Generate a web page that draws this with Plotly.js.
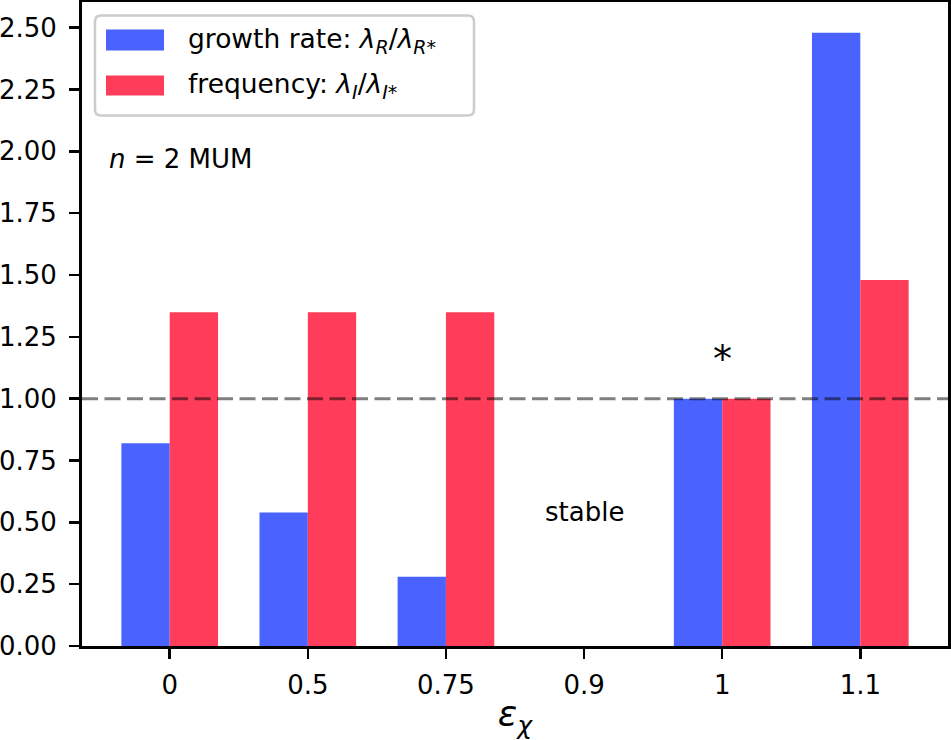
<!DOCTYPE html>
<html>
<head>
<meta charset="utf-8">
<script src="https://cdn.plot.ly/plotly-3.0.1.min.js"></script>
<style>html,body{margin:0;padding:0;background:#fff;}#chart{width:951px;height:740px;}</style>
</head>
<body>
<div id="chart"></div>
<script>
// ---- data ----
const categories = ["0", "0.5", "0.75", "0.9", "1", "1.1"];
const growthRate = [0.82, 0.54, 0.28, 0, 1.0, 2.48];
const frequency = [1.35, 1.35, 1.35, 0, 1.0, 1.48];
const seriesNames = [
  "growth rate: <i>λ<sub><span style='font-size:19px'>R</span></sub></i>/<i>λ<sub><span style='font-size:19px'>R*</span></sub></i>",
  "frequency: <i>λ<sub><span style='font-size:19px'>I</span></sub></i>/<i>λ<sub><span style='font-size:19px'>I*</span></sub></i>"
];
const yTickVals = [0, 0.25, 0.5, 0.75, 1.0, 1.25, 1.5, 1.75, 2.0, 2.25, 2.5];
const referenceLevel = 1.0;
const stableLabel = {cat: "0.9", y: 0.54, text: "stable"};
const starLabel = {cat: "1", y: 1.16, text: "*"};
const modelLabel = "<i>n</i> = 2 MUM";

const BLUE = "#4a63ff";
const RED = "#ff3d5a";
const FONT = "DejaVu Sans";

const traces = [
  {type: "bar", x: categories, y: growthRate, name: seriesNames[0],
   marker: {color: BLUE, line: {width: 0}}, hoverinfo: "x+y"},
  {type: "bar", x: categories, y: frequency, name: seriesNames[1],
   marker: {color: RED, line: {width: 0}}, hoverinfo: "x+y"}
];

function legendBox(x0, x1, ytop, ybot, r) {
  const t = -ytop, b = -ybot;
  return `M ${x0 + r} ${t} L ${x1 - r} ${t} Q ${x1} ${t} ${x1} ${t - r} ` +
         `L ${x1} ${b + r} Q ${x1} ${b} ${x1 - r} ${b} L ${x0 + r} ${b} ` +
         `Q ${x0} ${b} ${x0} ${b + r} L ${x0} ${t - r} Q ${x0} ${t} ${x0 + r} ${t} Z`;
}

const shapes = [
  {type: "line", xref: "paper", x0: 0, x1: 1, yref: "y", y0: referenceLevel, y1: referenceLevel,
   line: {color: "rgba(0,0,0,0.5)", width: 3, dash: "16px,6.5px"}, layer: "above"},
  {type: "path", xref: "paper", yref: "paper", xsizemode: "pixel", ysizemode: "pixel",
   xanchor: 0, yanchor: 1, path: legendBox(13, 392, 13.5, 113.5, 6),
   fillcolor: "rgba(255,255,255,0.8)", line: {color: "#cccccc", width: 2.5}, layer: "above"},
  {type: "rect", xref: "paper", yref: "paper", xsizemode: "pixel", ysizemode: "pixel",
   xanchor: 0, yanchor: 1, x0: 24, x1: 82, y0: -27.5, y1: -48.5,
   fillcolor: BLUE, line: {width: 0}, layer: "above"},
  {type: "rect", xref: "paper", yref: "paper", xsizemode: "pixel", ysizemode: "pixel",
   xanchor: 0, yanchor: 1, x0: 24, x1: 82, y0: -73.5, y1: -93.5,
   fillcolor: RED, line: {width: 0}, layer: "above"}
];

const plotW = 951 - 82 - 3, plotH = 740 - 1.5 - 94;
const annotations = [
  {xref: "paper", yref: "paper", x: 104 / plotW, y: 1 - 38.5 / plotH, xanchor: "left", yanchor: "middle",
   text: seriesNames[0], showarrow: false, font: {family: FONT, size: 26.5, color: "#000"}},
  {xref: "paper", yref: "paper", x: 104 / plotW, y: 1 - 84 / plotH, xanchor: "left", yanchor: "middle",
   text: seriesNames[1], showarrow: false, font: {family: FONT, size: 26.5, color: "#000"}},
  {xref: "paper", yref: "paper", x: 25 / plotW, y: 1 - 157 / plotH, xanchor: "left", yanchor: "middle",
   text: modelLabel, showarrow: false, font: {family: FONT, size: 26, color: "#000"}},
  {xref: "x", yref: "y", x: categories.indexOf(stableLabel.cat), y: stableLabel.y, xanchor: "center", yanchor: "middle",
   text: stableLabel.text, showarrow: false, font: {family: FONT, size: 26, color: "#000"}},
  {xref: "x", yref: "y", x: categories.indexOf(starLabel.cat), y: starLabel.y, xanchor: "center", yanchor: "middle",
   text: starLabel.text, showarrow: false, font: {family: FONT, size: 38, color: "#000"}}
];

const layout = {
  width: 951, height: 740,
  margin: {l: 82, r: 3, t: 1.5, b: 94, pad: 0},
  paper_bgcolor: "#fff", plot_bgcolor: "#fff",
  font: {family: FONT, size: 26, color: "#000"},
  showlegend: false,
  barmode: "group", bargap: 0.3, bargroupgap: 0,
  xaxis: {
    type: "category", range: [-0.635, 5.635],
    showgrid: false, zeroline: false,
    showline: true, linecolor: "#000", linewidth: 3, mirror: true,
    ticks: "outside", ticklen: 10, tickwidth: 2.5, tickcolor: "#000",
    tickfont: {family: FONT, size: 26, color: "#000"},
    ticklabelstandoff: 4,
    title: {text: "<i>ε<sub>χ</sub></i>", font: {family: FONT, size: 36, color: "#000"}, standoff: 10}
  },
  yaxis: {
    range: [0, 2.604],
    tickvals: yTickVals, tickformat: ".2f",
    showgrid: false, zeroline: false,
    showline: true, linecolor: "#000", linewidth: 3, mirror: true,
    ticks: "outside", ticklen: 10, tickwidth: 2.5, tickcolor: "#000",
    tickfont: {family: FONT, size: 26, color: "#000"},
    ticklabelstandoff: 7
  },
  shapes: shapes,
  annotations: annotations
};

Plotly.newPlot("chart", traces, layout, {displayModeBar: false, staticPlot: true});
</script>
</body>
</html>
